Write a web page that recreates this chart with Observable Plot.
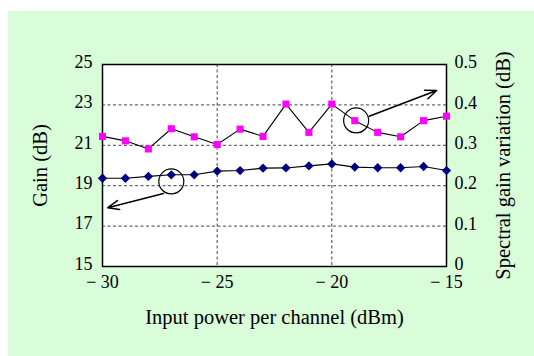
<!DOCTYPE html>
<html>
<head>
<meta charset="utf-8">
<script src="https://cdn.jsdelivr.net/npm/d3@7"></script>
<script src="https://cdn.jsdelivr.net/npm/@observablehq/plot@0.6"></script>
<style>
  html, body { margin: 0; padding: 0; background: #fff; }
  #chart { padding: 11px 0 0 8px; width: 526px; height: 345px; }
  #chart svg { display: block; }
</style>
</head>
<body>
<div id="chart"></div>
<script>
// Input power per channel (dBm)
const power = [-30, -29, -28, -27, -26, -25, -24, -23, -22, -21, -20, -19, -18, -17, -16, -15];
// Gain (dB) — left axis
const gain = [19.37, 19.37, 19.46, 19.54, 19.54, 19.72, 19.75, 19.87, 19.88, 19.98, 20.08, 19.92, 19.89, 19.89, 19.95, 19.75];
// Spectral gain variation (dB) — right axis
const variation = [0.322, 0.311, 0.291, 0.341, 0.321, 0.302, 0.340, 0.322, 0.402, 0.332, 0.402, 0.361, 0.332, 0.321, 0.361, 0.372];

const xTicks = [-30, -25, -20, -15];
const gainTicks = [15, 17, 19, 21, 23, 25];
const varTicks = [0, 0.1, 0.2, 0.3, 0.4, 0.5];

// annotation circles and arrows (data units)
const circles = [{x: -27, y: 19.21}, {x: -18.94, y: 22.23}];
const arrows = [
  {x1: -27.34, y1: 18.61, x2: -29.77, y2: 17.91},
  {x1: -18.37, y1: 22.44, x2: -15.43, y2: 23.71}
];

// map right-axis value onto gain scale (0 -> 15, 0.5 -> 25)
const varToGain = v => 15 + v * 20;
const gainToVar = g => (g - 15) / 20;

const gainData = power.map((p, i) => ({x: p, y: gain[i]}));
const varData = power.map((p, i) => ({x: p, y: varToGain(variation[i])}));

const fmtX = d => d < 0 ? "\u2212 " + (-d) : String(d);
const fmtVar = d => { const v = Math.round(gainToVar(d) * 10) / 10; return v === 0 ? "0" : v.toFixed(1); };

const chart = Plot.plot({
  width: 526,
  height: 345,
  marginLeft: 94,
  marginRight: 88,
  marginTop: 53,
  marginBottom: 90,
  style: {background: "#d8fdd8", fontFamily: "'Liberation Serif', 'Times New Roman', serif", color: "#000", overflow: "visible"},
  x: {domain: [-30, -15]},
  y: {domain: [15, 25]},
  marks: [
    Plot.frame({fill: "white", stroke: null}),
    Plot.gridY([17, 19, 21, 23], {stroke: "#444", strokeOpacity: 1, strokeDasharray: "3,2.5", strokeWidth: 1}),
    Plot.gridX([-25, -20], {stroke: "#444", strokeOpacity: 1, strokeDasharray: "3,2.5", strokeWidth: 1}),
    Plot.frame({stroke: "#000", strokeWidth: 1.5}),
    Plot.axisX(xTicks, {tickSize: 0, tickPadding: 9, tickFormat: fmtX, fontSize: 18, label: null}),
    Plot.axisY(gainTicks, {anchor: "left", tickSize: 0, tickPadding: 10, dy: -2.5, fontSize: 18, label: null}),
    Plot.axisY(varTicks.map(varToGain), {anchor: "right", tickSize: 0, tickPadding: 8, dy: -2, tickFormat: fmtVar, fontSize: 18, label: null}),
    Plot.text(["Gain (dB)"], {frameAnchor: "left", dx: -62, rotate: -90, fontSize: 20.5, textAnchor: "middle", lineAnchor: "middle"}),
    Plot.text(["Spectral gain variation (dB)"], {frameAnchor: "right", dx: 57, rotate: -90, fontSize: 20.5, textAnchor: "middle", lineAnchor: "middle"}),
    Plot.text(["Input power per channel (dBm)"], {frameAnchor: "bottom", dy: 51, fontSize: 20.5, textAnchor: "middle", lineAnchor: "middle"}),
    Plot.line(varData, {x: "x", y: "y", stroke: "#000", strokeWidth: 1.1}),
    Plot.line(gainData, {x: "x", y: "y", stroke: "#000", strokeWidth: 1.1}),
    Plot.dot(varData, {x: "x", y: "y", symbol: "square", r: 4, fill: "#ff00ff", stroke: null}),
    Plot.dot(gainData, {x: "x", y: "y", symbol: "diamond2", r: 4.2, fill: "#000080", stroke: null}),
    Plot.dot(circles, {x: "x", y: "y", r: 12.5, fill: "none", stroke: "#000", strokeWidth: 1.2}),
    Plot.arrow(arrows, {x1: "x1", y1: "y1", x2: "x2", y2: "y2", stroke: "#000", strokeWidth: 1.5, headLength: 12, headAngle: 45})
  ]
});
document.getElementById("chart").appendChild(chart);
</script>
</body>
</html>
